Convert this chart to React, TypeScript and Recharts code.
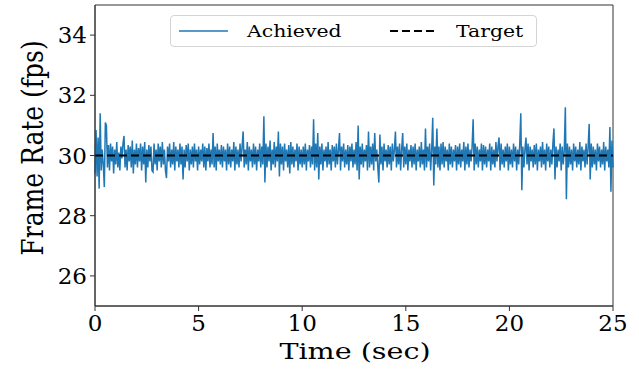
import { LineChart, Line, XAxis, YAxis, ReferenceArea, Legend } from "recharts"

const FONT = "'DejaVu Serif', serif"

// achieved frame rate, one reading every 0.05 s (20 per second)
const achieved0to5 = [
  29.4, 30.85, 29.3, 30.6, 28.9, 31.4, 29.5, 30.2, 29.7, 28.95, 31.1, 31.0, 29.6, 30.35, 29.5, 30.4, 29.8, 30.3, 29.4, 30.2,
  29.7, 30.45, 29.6, 30.1, 29.5, 30.3, 29.9, 30.4, 30.65, 29.6, 30.2, 29.5, 30.35, 29.8, 30.3, 29.6, 30.5, 29.4, 30.2, 29.7,
  30.4, 29.6, 30.25, 29.8, 30.4, 29.5, 30.3, 29.7, 30.45, 29.1, 30.2, 29.6, 30.35, 29.8, 30.3, 29.5, 29.45, 30.4, 29.7, 30.2,
  29.5, 30.4, 29.8, 30.3, 29.6, 30.45, 29.7, 30.2, 29.5, 29.25, 30.3, 29.8, 30.4, 29.6, 30.2, 29.7, 30.45, 29.5, 30.3, 29.8,
  30.2, 29.6, 30.4, 29.7, 30.3, 29.2, 30.2, 29.6, 30.35, 29.8, 30.4, 29.5, 30.2, 29.7, 30.3, 29.6, 30.4, 29.8, 30.2, 29.5,
]
const achieved5to10 = [
  30.3, 29.7, 30.2, 29.8, 30.4, 29.6, 30.3, 29.5, 30.25, 29.8, 30.4, 29.6, 30.2, 29.7, 30.75, 29.6, 30.3, 29.5, 30.4, 29.8,
  30.2, 29.7, 30.35, 29.6, 30.3, 29.8, 30.2, 29.5, 30.4, 29.7, 30.3, 29.6, 30.2, 29.8, 30.45, 29.5, 30.3, 29.7, 30.2, 29.6,
  30.4, 29.8, 30.3, 30.8, 29.6, 30.2, 29.7, 30.45, 29.5, 30.3, 29.8, 30.2, 29.6, 30.4, 29.7, 30.3, 29.5, 30.2, 29.8, 30.4,
  29.6, 30.3, 29.7, 31.3, 29.1, 30.4, 29.6, 30.3, 29.8, 30.5, 29.5, 30.2, 29.7, 30.45, 29.6, 30.3, 29.8, 30.8, 29.3, 30.4,
  29.7, 30.3, 29.5, 30.4, 29.8, 30.2, 29.6, 30.35, 29.4, 30.45, 29.7, 30.3, 29.6, 30.2, 29.8, 30.4, 29.5, 30.3, 29.7, 30.2,
]
const achieved10to15 = [
  29.6, 30.3, 29.7, 30.4, 29.5, 30.2, 29.8, 30.35, 29.6, 30.3, 29.7, 31.2, 29.5, 30.4, 29.6, 30.75, 29.2, 30.3, 29.7, 30.4,
  29.5, 30.2, 29.8, 30.3, 29.6, 30.45, 29.7, 30.2, 29.5, 30.35, 29.8, 30.3, 29.6, 30.4, 29.7, 30.2, 30.75, 29.5, 30.3, 29.8,
  30.4, 29.6, 30.2, 29.7, 30.35, 29.5, 30.3, 29.8, 30.4, 29.6, 30.2, 29.7, 30.45, 29.5, 31.0, 29.2, 30.3, 29.7, 30.4, 29.6,
  30.2, 29.8, 30.35, 29.5, 30.8, 29.6, 30.3, 29.7, 30.4, 29.5, 30.75, 29.8, 30.2, 29.6, 29.1, 30.7, 29.7, 30.3, 29.5, 30.4,
  29.8, 30.2, 29.6, 30.35, 29.7, 30.3, 29.5, 30.4, 29.8, 30.2, 30.8, 29.6, 30.3, 29.7, 30.4, 29.5, 30.2, 30.75, 29.6, 30.3,
]
const achieved15to20 = [
  29.7, 30.4, 29.5, 30.2, 29.8, 30.35, 29.6, 30.3, 29.7, 30.4, 29.5, 30.2, 29.8, 30.3, 29.6, 30.45, 29.7, 30.2, 29.5, 30.9,
  29.6, 30.3, 29.8, 30.4, 29.5, 30.2, 31.25, 29.0, 30.3, 29.7, 30.9, 29.6, 30.3, 29.5, 30.4, 29.7, 30.45, 29.6, 30.3, 29.8,
  30.2, 29.5, 30.4, 29.7, 30.3, 29.6, 30.2, 29.8, 30.35, 29.5, 30.3, 29.7, 30.4, 29.6, 30.2, 29.8, 30.45, 29.5, 30.3, 29.7,
  30.4, 29.6, 30.2, 29.8, 30.3, 31.2, 29.5, 30.4, 29.7, 30.3, 29.6, 30.2, 29.8, 30.4, 29.5, 30.35, 29.7, 30.3, 29.6, 30.2,
  29.8, 30.4, 29.5, 30.3, 29.7, 30.2, 29.6, 30.45, 29.8, 30.3, 30.6, 29.5, 30.4, 29.7, 30.2, 29.6, 30.3, 29.8, 30.4, 29.5,
]
const achieved20to25 = [
  30.3, 29.7, 30.2, 29.6, 30.4, 29.8, 30.3, 29.5, 30.2, 29.7, 30.4, 31.4, 28.85, 30.3, 29.6, 30.2, 30.6, 29.7, 30.4, 29.5,
  30.3, 29.8, 30.2, 29.6, 30.35, 29.7, 30.4, 29.5, 30.2, 29.8, 30.3, 29.6, 30.45, 29.7, 30.2, 29.5, 30.4, 29.8, 30.3, 29.6,
  30.2, 29.7, 30.4, 30.9, 29.2, 30.3, 29.6, 30.2, 29.8, 30.4, 29.5, 30.3, 29.7, 30.2, 31.6, 28.55, 30.4, 29.6, 30.3, 29.7,
  30.2, 29.5, 30.4, 29.8, 30.3, 29.6, 30.2, 29.7, 30.45, 29.5, 30.3, 29.8, 30.2, 29.6, 30.4, 29.7, 30.3, 31.05, 29.2, 30.4,
  29.6, 30.3, 29.7, 30.2, 29.5, 30.4, 29.8, 30.3, 29.6, 30.2, 29.7, 30.45, 29.5, 30.3, 29.8, 30.2, 29.6, 30.95, 28.8, 30.5,
  29.6,
]

const targetFps = 30
const timeTicks = [0, 5, 10, 15, 20, 25]
const fpsTicks = [26, 28, 30, 32, 34]

const achieved = [
  ...achieved0to5,
  ...achieved5to10,
  ...achieved10to15,
  ...achieved15to20,
  ...achieved20to25,
]
const data = achieved.map((fps, i) => ({ time: i / 20, fps, target: targetFps }))

function LegendBox() {
  const label = { position: "absolute" as const, top: -1, lineHeight: "32px", transform: "scaleX(1.2)", transformOrigin: "left center" }
  return (
    <div
      style={{
        position: "relative",
        width: 367,
        height: 32,
        boxSizing: "border-box",
        border: "1px solid #d4d4d4",
        borderRadius: 4,
        background: "rgba(255,255,255,0.85)",
        fontFamily: FONT,
        fontSize: 17,
        color: "#000",
      }}
    >
      <svg width={367} height={32} style={{ position: "absolute", left: -1, top: -1 }}>
        <line x1={9} x2={58} y1={16} y2={16} stroke="#1f77b4" strokeWidth={1.5} />
        <line x1={220} x2={267} y1={16} y2={16} stroke="#000" strokeWidth={2} strokeDasharray="8 4" />
      </svg>
      <span style={{ ...label, left: 76 }}>Achieved</span>
      <span style={{ ...label, left: 285 }}>Target</span>
    </div>
  )
}

export default function App() {
  return (
    <div style={{ position: "absolute", left: 0, top: 0, background: "#fff" }}>
      <LineChart width={639} height={371} data={data} margin={{ top: 5, right: 26, left: 0, bottom: 35 }}>
        <XAxis
          dataKey="time"
          type="number"
          domain={[0, 25]}
          ticks={timeTicks}
          height={30}
          tickSize={5}
          tickMargin={4}
          stroke="#333"
          tick={{ fontFamily: FONT, fontSize: 23, fill: "#000" }}
          label={{
            value: "Time (sec)",
            position: "bottom",
            content: () => (
              <text
                transform="translate(355,359) scale(1.3,1)"
                textAnchor="middle"
                style={{ fontFamily: FONT, fontSize: 22, fill: "#000" }}
              >
                Time (sec)
              </text>
            ),
          }}
        />
        <YAxis
          type="number"
          domain={[25, 35]}
          ticks={fpsTicks}
          width={95}
          tickSize={5}
          tickMargin={3}
          stroke="#333"
          tick={{ fontFamily: FONT, fontSize: 23, fill: "#000" }}
          label={{
            value: "Frame Rate (fps)",
            position: "center",
            content: () => (
              <text
                transform="translate(33,148) rotate(-90) scale(1,1.2)"
                textAnchor="middle"
                dominantBaseline="central"
                style={{ fontFamily: FONT, fontSize: 25, fill: "#000" }}
              >
                Frame Rate (fps)
              </text>
            ),
          }}
        />
        <Line
          type="linear"
          dataKey="fps"
          name="Achieved"
          stroke="#1f77b4"
          strokeWidth={1.5}
          dot={false}
          isAnimationActive={false}
        />
        <Line
          type="linear"
          dataKey="target"
          name="Target"
          stroke="#000"
          strokeWidth={2}
          strokeDasharray="8 4"
          dot={false}
          isAnimationActive={false}
        />
        <ReferenceArea x1={0} x2={25} y1={25} y2={35} fill="none" stroke="#333" strokeWidth={1} ifOverflow="visible" />
        <Legend
          layout="horizontal"
          verticalAlign="middle"
          align="center"
          content={() => <LegendBox />}
          wrapperStyle={{ left: 170, top: 15, width: 367, height: 32 }}
        />
      </LineChart>
    </div>
  )
}
